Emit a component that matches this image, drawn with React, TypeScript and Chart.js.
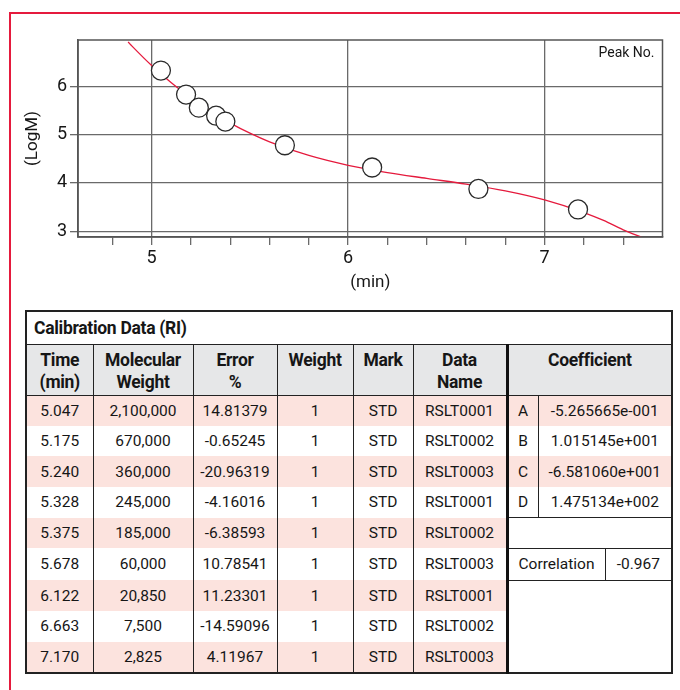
import React, { useEffect, useRef } from "react";
import { Chart, registerables } from "chart.js";

Chart.register(...registerables);

// ---- Data ----
const timeLabels = ["5.047", "5.175", "5.240", "5.328", "5.375", "5.678", "6.122", "6.663", "7.170"];
const times = [5.047, 5.175, 5.24, 5.328, 5.375, 5.678, 6.122, 6.663, 7.17];
const molecularWeights = ["2,100,000", "670,000", "360,000", "245,000", "185,000", "60,000", "20,850", "7,500", "2,825"];
const logM = [6.322, 5.826, 5.556, 5.389, 5.267, 4.778, 4.319, 3.875, 3.451];
const errors = ["14.81379", "-0.65245", "-20.96319", "-4.16016", "-6.38593", "10.78541", "11.23301", "-14.59096", "4.11967"];
const weights = ["1", "1", "1", "1", "1", "1", "1", "1", "1"];
const marks = ["STD", "STD", "STD", "STD", "STD", "STD", "STD", "STD", "STD"];
const dataNames = ["RSLT0001", "RSLT0002", "RSLT0003", "RSLT0001", "RSLT0002", "RSLT0003", "RSLT0001", "RSLT0002", "RSLT0003"];
const coefLetters = ["A", "B", "C", "D"];
const coefValues = ["-5.265665e-001", "1.015145e+001", "-6.581060e+001", "1.475134e+002"];
const correlationLabel = "Correlation";
const correlationValue = "-0.967";

// calibration curve
const curveTimes = [4.88, 4.9, 5.0, 5.1, 5.2, 5.3, 5.4, 5.5, 5.6, 5.8, 6.0, 6.2, 6.4, 6.6, 6.8, 7.0, 7.2, 7.3, 7.4, 7.5];
const curveLogM = [6.914, 6.828, 6.426, 6.069, 5.754, 5.478, 5.237, 5.029, 4.85, 4.567, 4.364, 4.214, 4.093, 3.975, 3.835, 3.648, 3.388, 3.224, 3.031, 2.864];

const xTickValues = [4.8, 5.0, 5.2, 5.4, 5.6, 5.8, 6.0, 6.2, 6.4, 6.6, 6.8, 7.0, 7.2, 7.4];
const xTickLabels = ["", "5", "", "", "", "", "6", "", "", "", "", "7", "", ""];
const yTickValues = [3, 4, 5, 6];
const yTickLabels = ["3", "4", "5", "6"];

const FONT = "Roboto, 'Liberation Sans', Arial, sans-serif";
const INK = "#161616";
const GRID = "#6a6a6a";
const PINK = "#fce3de";
const RED = "#e51a3d";

const framePlugin = {
  id: "frameAndNote",
  afterDatasetsDraw(chart: any) {
    const { ctx, chartArea } = chart;
    ctx.save();
    ctx.strokeStyle = "#555";
    ctx.lineWidth = 1.5;
    ctx.strokeRect(chartArea.left, chartArea.top, chartArea.right - chartArea.left, chartArea.bottom - chartArea.top);
    ctx.fillStyle = INK;
    ctx.font = `14px ${FONT}`;
    ctx.textAlign = "right";
    ctx.textBaseline = "alphabetic";
    ctx.fillText("Peak No.", chartArea.right - 8, chartArea.top + 17);
    ctx.restore();
  },
};

function CalibrationChart() {
  const ref = useRef<HTMLCanvasElement | null>(null);
  useEffect(() => {
    if (!ref.current) return;
    const chart = new Chart(ref.current, {
      type: "scatter",
      data: {
        datasets: [
          {
            label: "Peaks",
            data: times.map((t, i) => ({ x: t, y: logM[i] })),
            pointRadius: 9.5,
            pointHoverRadius: 9.5,
            pointBackgroundColor: "#ffffff",
            pointBorderColor: "#2a2a2a",
            pointBorderWidth: 1.3,
            showLine: false,
            order: 0,
          },
          {
            label: "Curve",
            data: curveTimes.map((t, i) => ({ x: t, y: curveLogM[i] })),
            showLine: true,
            pointRadius: 0,
            borderColor: RED,
            borderWidth: 1.3,
            cubicInterpolationMode: "monotone",
            order: 1,
          } as any,
        ],
      },
      options: {
        animation: false,
        responsive: false,
        maintainAspectRatio: false,
        events: [],
        layout: { padding: { left: 0, top: 40, right: 17.5, bottom: 0 } },
        plugins: { legend: { display: false }, tooltip: { enabled: false }, title: { display: false } },
        scales: {
          x: {
            type: "linear",
            min: 4.625,
            max: 7.6,
            afterBuildTicks: (scale: any) => {
              scale.ticks = xTickValues.map((v) => ({ value: v }));
            },
            afterFit: (scale: any) => {
              scale.height = 63;
            },
            ticks: {
              autoSkip: false,
              maxRotation: 0,
              padding: 3,
              color: INK,
              font: { family: FONT, size: 18 },
              callback: (_v: any, i: number) => xTickLabels[i],
            },
            grid: {
              color: (c: any) => (c.tick && Math.abs(c.tick.value - Math.round(c.tick.value)) < 1e-6 ? GRID : "rgba(0,0,0,0)"),
              tickColor: GRID,
              tickLength: 8,
              lineWidth: 1.3,
            },
            border: { display: true, color: "#555", width: 1.5 },
            title: { display: true, text: "(min)", color: INK, font: { family: FONT, size: 17 }, padding: { top: 0, bottom: 7.5 } },
          },
          y: {
            type: "linear",
            min: 2.882,
            max: 6.954,
            afterBuildTicks: (scale: any) => {
              scale.ticks = yTickValues.map((v) => ({ value: v }));
            },
            afterFit: (scale: any) => {
              scale.width = 78;
            },
            ticks: {
              padding: 3,
              color: INK,
              font: { family: FONT, size: 18 },
              callback: (_v: any, i: number) => yTickLabels[i],
            },
            grid: { color: GRID, tickColor: GRID, tickLength: 8, lineWidth: 1.3 },
            border: { display: true, color: "#555", width: 1.5 },
            title: { display: true, text: "(LogM)", color: INK, font: { family: FONT, size: 17 }, padding: { top: 23, bottom: 0 } },
          },
        },
      },
      plugins: [framePlugin],
    });
    return () => chart.destroy();
  }, []);
  return <canvas ref={ref} width={680} height={300} style={{ position: "absolute", left: 0, top: 0, width: 680, height: 300 }} />;
}

const lineC = "1.5px solid #222";
const colWidths = [67, 100, 84, 76, 60, 94, 31, 134];

function CalibrationTable() {
  const cell: React.CSSProperties = { padding: 0, textAlign: "center", verticalAlign: "middle", borderRight: lineC, whiteSpace: "nowrap", overflow: "hidden" };
  const head: React.CSSProperties = { ...cell, verticalAlign: "top", fontWeight: 700, fontSize: 17.5, lineHeight: "22px", paddingTop: 4, borderBottom: lineC, letterSpacing: -0.3 };
  const rowsCount = timeLabels.length;
  return (
    <table
      style={{
        position: "absolute",
        left: 25,
        top: 310,
        width: 646,
        borderCollapse: "collapse",
        tableLayout: "fixed",
        fontFamily: FONT,
        fontSize: 15.5,
        color: INK,
        border: "2px solid #222",
        background: "#fff",
      }}
    >
      <colgroup>
        {colWidths.map((w, i) => (
          <col key={i} style={{ width: w }} />
        ))}
      </colgroup>
      <tbody>
        <tr style={{ height: 33 }}>
          <td colSpan={8} style={{ padding: "0 0 0 7px", textAlign: "left", fontWeight: 700, fontSize: 17.5, letterSpacing: -0.3, borderBottom: lineC }}>
            Calibration Data (RI)
          </td>
        </tr>
        <tr style={{ height: 51, background: "#e6e7e8" }}>
          <td style={head}>Time<br />(min)</td>
          <td style={head}>Molecular<br />Weight</td>
          <td style={head}>Error<br />%</td>
          <td style={head}>Weight</td>
          <td style={head}>Mark</td>
          <td style={{ ...head, borderRight: "3px solid #111" }}>Data<br />Name</td>
          <td colSpan={2} style={head}>Coefficient</td>
        </tr>
        {timeLabels.map((t, i) => {
          const bg = i % 2 === 0 ? PINK : "#ffffff";
          return (
            <tr key={i} style={{ height: 30.7, background: bg }}>
              <td style={cell}>{t}</td>
              <td style={cell}>{molecularWeights[i]}</td>
              <td style={cell}>{errors[i]}</td>
              <td style={cell}>{weights[i]}</td>
              <td style={cell}>{marks[i]}</td>
              <td style={{ ...cell, borderRight: "3px solid #111" }}>{dataNames[i]}</td>
              {i < coefLetters.length ? (
                <>
                  <td style={{ ...cell, borderBottom: i === coefLetters.length - 1 ? lineC : undefined }}>{coefLetters[i]}</td>
                  <td style={{ ...cell, borderBottom: i === coefLetters.length - 1 ? lineC : undefined }}>{coefValues[i]}</td>
                </>
              ) : i === coefLetters.length ? (
                <td colSpan={2} style={{ ...cell, background: "#fff", borderBottom: lineC }}></td>
              ) : i === coefLetters.length + 1 ? (
                <td colSpan={2} style={{ ...cell, background: "#fff", borderBottom: lineC }}>
                  <div style={{ display: "flex", height: 31, alignItems: "stretch" }}>
                    <div style={{ width: 96, borderRight: lineC, display: "flex", alignItems: "center", justifyContent: "center" }}>{correlationLabel}</div>
                    <div style={{ flex: 1, display: "flex", alignItems: "center", justifyContent: "center" }}>{correlationValue}</div>
                  </div>
                </td>
              ) : i === coefLetters.length + 2 ? (
                <td colSpan={2} rowSpan={rowsCount - i} style={{ ...cell, background: "#fff" }}></td>
              ) : null}
            </tr>
          );
        })}
      </tbody>
    </table>
  );
}

export default function App() {
  return (
    <div style={{ position: "absolute", left: 0, top: 0, width: 680, height: 690, overflow: "hidden", background: "#fff" }}>
      <div style={{ position: "absolute", left: 9, top: 12, width: 700, height: 700, borderTop: `2.5px solid ${RED}`, borderLeft: `2.5px solid ${RED}` }} />
      <CalibrationChart />
      <CalibrationTable />
    </div>
  );
}
